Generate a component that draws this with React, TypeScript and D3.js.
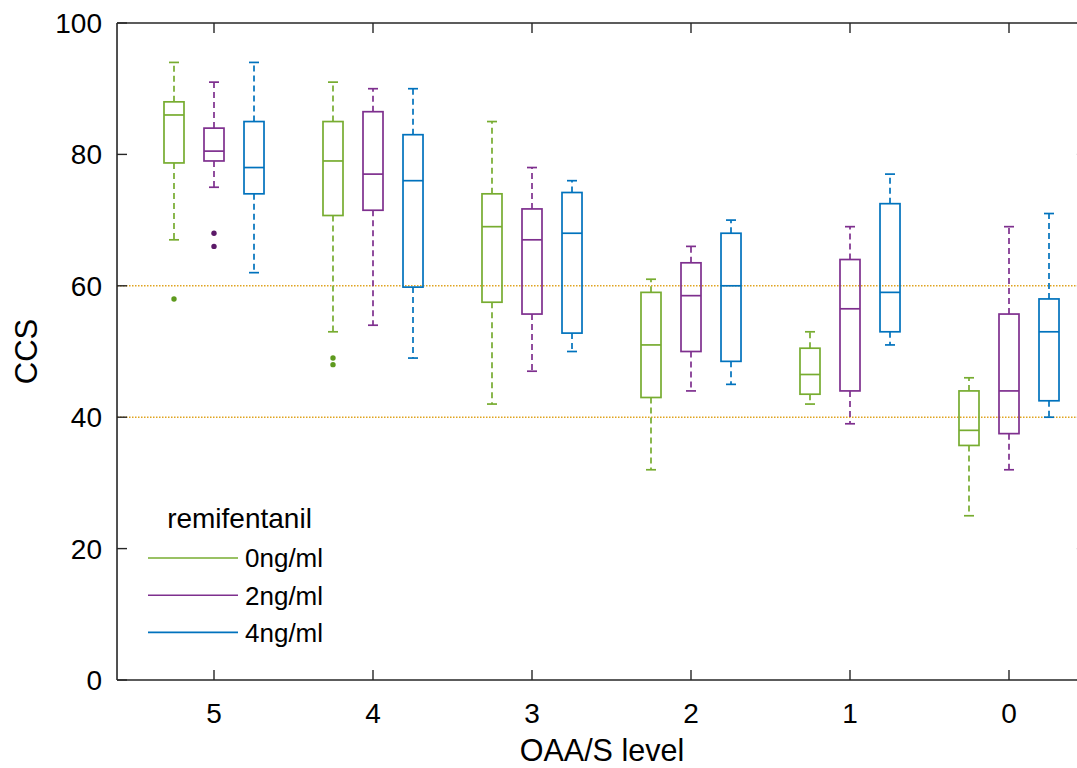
import React from "react";
import * as d3 from "d3";

const levels = ["5", "4", "3", "2", "1", "0"];
const seriesNames = ["0ng/ml", "2ng/ml", "4ng/ml"];
const legendTitle = "remifentanil";
const seriesColors = ["#77AC30", "#7E2F8E", "#0072BD"];
const outlierColors = ["#5E9A1E", "#5C1A68", "#0060A8"];
const yTicks = [0, 20, 40, 60, 80, 100];
const refLines = [40, 60];

// 0 ng/ml
const g0Hi = [94, 91, 85, 61, 53, 46];
const g0Q3 = [88, 85, 74, 59, 50.5, 44];
const g0Med = [86, 79, 69, 51, 46.5, 38];
const g0Q1 = [78.7, 70.7, 57.5, 43, 43.5, 35.7];
const g0Lo = [67, 53, 42, 32, 42, 25];
const g0Out = [[58], [49, 48], [], [], [], []];

// 2 ng/ml
const g2Hi = [91, 90, 78, 66, 69, 69];
const g2Q3 = [84, 86.5, 71.7, 63.5, 64, 55.7];
const g2Med = [80.5, 77, 67, 58.5, 56.5, 44];
const g2Q1 = [79, 71.5, 55.7, 50, 44, 37.5];
const g2Lo = [75, 54, 47, 44, 39, 32];
const g2Out = [[68, 66], [], [], [], [], []];

// 4 ng/ml
const g4Hi = [94, 90, 76, 70, 77, 71];
const g4Q3 = [85, 83, 74.2, 68, 72.5, 58];
const g4Med = [78, 76, 68, 60, 59, 53];
const g4Q1 = [74, 59.8, 52.8, 48.5, 53, 42.5];
const g4Lo = [62, 49, 50, 45, 51, 40];
const g4Out = [[], [], [], [], [], []];

const series = [
  { hi: g0Hi, q3: g0Q3, med: g0Med, q1: g0Q1, lo: g0Lo, out: g0Out },
  { hi: g2Hi, q3: g2Q3, med: g2Med, q1: g2Q1, lo: g2Lo, out: g2Out },
  { hi: g4Hi, q3: g4Q3, med: g4Med, q1: g4Q1, lo: g4Lo, out: g4Out },
];

const W = 1077;
const H = 768;
const FONT = "'Liberation Sans', Arial, Helvetica, sans-serif";
const AX = "#262626";

export default function App() {
  const y = d3.scaleLinear().domain([0, 100]).range([680, 23]);
  const x = d3.scaleLinear().domain([1, 6]).range([214, 1009]);
  const left = x(0.39);
  const right = x(6.49);
  const top = y(100);
  const bottom = y(0);
  const off = 0.2516;
  const half = 0.0629;
  const capHalf = 0.0315;

  return (
    <svg width={W} height={H} style={{ position: "absolute", left: 0, top: 0, background: "#fff" }}>
      <rect x={0} y={0} width={W} height={H} fill="#fff" />
      {refLines.map((v) => (
        <line key={v} x1={left} x2={right} y1={y(v)} y2={y(v)} stroke="#E0A420" strokeWidth={1.4} strokeDasharray="1.5,1.5" />
      ))}
      {series.map((s, si) =>
        levels.map((lv, i) => {
          const c = i + 1 + (si - 1) * off;
          const xl = x(c - half);
          const xr = x(c + half);
          const xc = x(c);
          const cl = x(c - capHalf);
          const cr = x(c + capHalf);
          const col = seriesColors[si];
          return (
            <g key={`${si}-${i}`}>
              <line x1={xc} x2={xc} y1={y(s.q3[i])} y2={y(s.hi[i])} stroke={col} strokeWidth={1.7} strokeDasharray="6,4" />
              <line x1={xc} x2={xc} y1={y(s.q1[i])} y2={y(s.lo[i])} stroke={col} strokeWidth={1.7} strokeDasharray="6,4" />
              <line x1={cl} x2={cr} y1={y(s.hi[i])} y2={y(s.hi[i])} stroke={col} strokeWidth={1.7} />
              <line x1={cl} x2={cr} y1={y(s.lo[i])} y2={y(s.lo[i])} stroke={col} strokeWidth={1.7} />
              <rect x={xl} y={y(s.q3[i])} width={xr - xl} height={y(s.q1[i]) - y(s.q3[i])} fill="none" stroke={col} strokeWidth={1.7} />
              <line x1={xl} x2={xr} y1={y(s.med[i])} y2={y(s.med[i])} stroke={col} strokeWidth={1.7} />
              {s.out[i].map((o, oi) => (
                <circle key={oi} cx={xc} cy={y(o)} r={2.7} fill={outlierColors[si]} />
              ))}
            </g>
          );
        })
      )}
      {/* axes box */}
      <line x1={left} x2={left} y1={top} y2={bottom} stroke={AX} strokeWidth={1.6} />
      <line x1={left} x2={right} y1={bottom} y2={bottom} stroke={AX} strokeWidth={1.6} />
      <line x1={left} x2={right} y1={top} y2={top} stroke={AX} strokeWidth={1.6} />
      <line x1={right} x2={right} y1={top} y2={bottom} stroke={AX} strokeWidth={1.6} />
      {yTicks.map((t) => (
        <g key={t}>
          <line x1={left} x2={left + 10} y1={y(t)} y2={y(t)} stroke={AX} strokeWidth={1.4} />
          <line x1={right - 10} x2={right} y1={y(t)} y2={y(t)} stroke={AX} strokeWidth={1.4} />
          <text x={102} y={y(t)} dy="0.36em" textAnchor="end" fontFamily={FONT} fontSize={28} fill="#000">{t}</text>
        </g>
      ))}
      {levels.map((lv, i) => (
        <g key={lv}>
          <line x1={x(i + 1)} x2={x(i + 1)} y1={bottom} y2={bottom - 10} stroke={AX} strokeWidth={1.4} />
          <line x1={x(i + 1)} x2={x(i + 1)} y1={top} y2={top + 10} stroke={AX} strokeWidth={1.4} />
          <text x={x(i + 1)} y={723} textAnchor="middle" fontFamily={FONT} fontSize={28} fill="#000">{lv}</text>
        </g>
      ))}
      <text x={(left + right) / 2} y={761} textAnchor="middle" fontFamily={FONT} fontSize={30.5} fill="#000">OAA/S level</text>
      <text transform={`translate(37, ${(top + bottom) / 2}) rotate(-90)`} textAnchor="middle" fontFamily={FONT} fontSize={31} fill="#000">CCS</text>
      {/* legend */}
      <text x={239.5} y={528} textAnchor="middle" fontFamily={FONT} fontSize={28} fill="#000">{legendTitle}</text>
      {seriesNames.map((n, si) => (
        <g key={n}>
          <line x1={148} x2={238} y1={558 + si * 37.2} y2={558 + si * 37.2} stroke={seriesColors[si]} strokeWidth={1.6} />
          <text x={245} y={558 + si * 37.2} dy="0.36em" fontFamily={FONT} fontSize={26} fill="#000">{n}</text>
        </g>
      ))}
    </svg>
  );
}
